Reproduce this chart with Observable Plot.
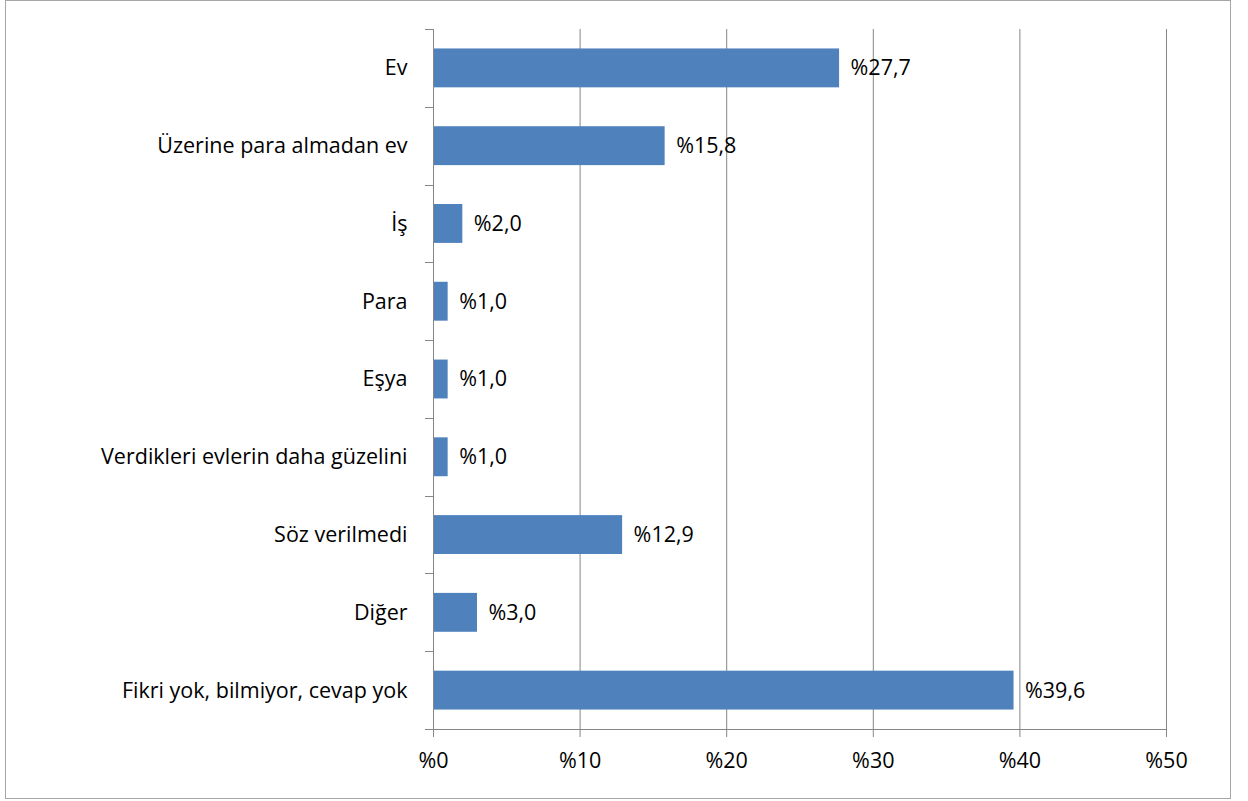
<!DOCTYPE html>
<html>
<head>
<meta charset="utf-8">
<script src="https://cdn.jsdelivr.net/npm/d3@7"></script>
<script src="https://cdn.jsdelivr.net/npm/@observablehq/plot@0.6"></script>
<style>
  html, body { margin: 0; padding: 0; background: #fff; }
  #wrap { position: relative; width: 1248px; height: 801px; }
  #wrap svg { display: block; }
  #border { position: absolute; left: 5px; top: 0px; width: 1224px; height: 797px; border: 1px solid #a6a6a6; pointer-events: none; }
</style>
</head>
<body>
<div id="wrap"><div id="border"></div></div>
<script>
const categories = ["Ev", "Üzerine para almadan ev", "İş", "Para", "Eşya", "Verdikleri evlerin daha güzelini", "Söz verilmedi", "Diğer", "Fikri yok, bilmiyor, cevap yok"];
const values = [27.7, 15.8, 2.0, 1.0, 1.0, 1.0, 12.9, 3.0, 39.6];
const xTicks = [0, 10, 20, 30, 40, 50];

const data = categories.map((c, i) => ({cat: c, value: values[i]}));
const fmt = v => "%" + v.toFixed(1).replace(".", ",");
const FONT = "'Open Sans', Lato, sans-serif";
const FS = 21.5;
const GRAY = "#868686";

const chart = Plot.plot({
  width: 1248,
  height: 801,
  marginTop: 29,
  marginBottom: 72,
  marginLeft: 433,
  marginRight: 82,
  x: {domain: [0, 50], ticks: xTicks},
  y: {domain: categories, paddingInner: 0.5, paddingOuter: 0.25, round: false},
  style: {fontFamily: FONT, fontSize: FS + "px", color: "#000", background: "transparent"},
  marks: [
    Plot.gridX(xTicks.slice(1), {stroke: GRAY, strokeOpacity: 1}),
    Plot.barX(data, {x: "value", y: "cat", fill: "#4F81BD"}),
    Plot.ruleX([0], {stroke: GRAY}),
    Plot.frame({anchor: "bottom", stroke: GRAY}),
    Plot.axisX({ticks: xTicks, tickSize: 8, tickPadding: 15, stroke: GRAY, fill: "#000", tickFormat: d => "%" + d, label: null, fontSize: FS}),
    Plot.axisY({tickSize: 0, tickPadding: 26, label: null, fill: "#000", fontSize: FS}),
    Plot.text(data, {x: "value", y: "cat", text: d => fmt(d.value), textAnchor: "start", dx: 11, fill: "#000", fontSize: FS})
  ]
});

// category boundary ticks on the y axis, derived from the scales
const ys = chart.scale("y");
const xs = chart.scale("x");
const x0 = xs.apply(0);
const gap = (ys.step - ys.bandwidth) / 2;
const bounds = categories.map(c => ys.apply(c) - gap);
bounds.push(ys.apply(categories[categories.length - 1]) + ys.bandwidth + gap);
d3.select(chart).append("g")
  .attr("stroke", GRAY)
  .selectAll("line")
  .data(bounds)
  .join("line")
  .attr("x1", x0 - 8)
  .attr("x2", x0)
  .attr("y1", d => Math.round(d) + 0.5)
  .attr("y2", d => Math.round(d) + 0.5);

document.getElementById("wrap").prepend(chart);
</script>
</body>
</html>
